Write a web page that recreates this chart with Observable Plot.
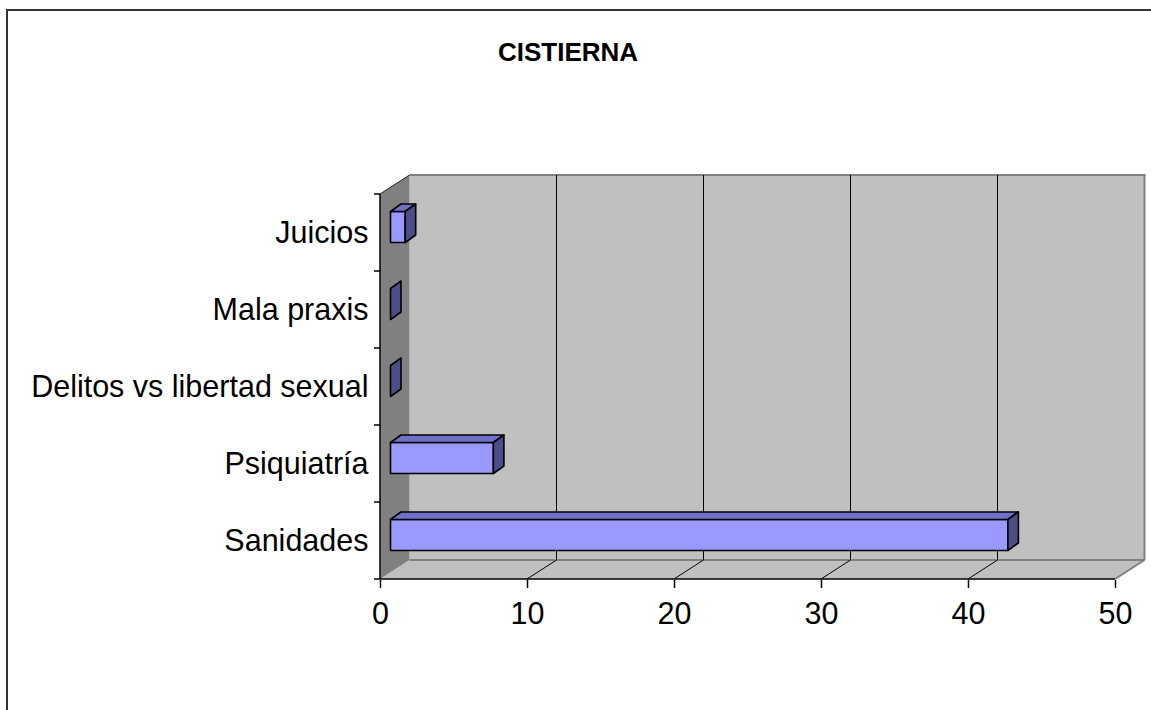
<!DOCTYPE html>
<html><head><meta charset="utf-8">
<script src="https://cdn.jsdelivr.net/npm/d3@7"></script>
<script src="https://cdn.jsdelivr.net/npm/@observablehq/plot@0.6"></script>
<style>
html,body{margin:0;padding:0;background:#fff;overflow:hidden;}
#wrap{position:relative;width:1151px;height:710px;overflow:hidden;}
#frame{position:absolute;left:6px;top:9px;width:1300px;height:900px;border-left:2px solid #333;border-top:2px solid #333;}
#title{position:absolute;left:0;width:1136px;top:39px;text-align:center;font:bold 26px "Liberation Sans",Arial,sans-serif;line-height:26px;color:#000;}
#chart{position:absolute;left:0;top:0;}
</style></head>
<body><div id="wrap"><div id="frame"></div><div id="title"></div><div id="chart"></div></div>
<script>
const title = "CISTIERNA";
const categories = ["Juicios", "Mala praxis", "Delitos vs libertad sexual", "Psiquiatría", "Sanidades"];
const values = [1, 0, 0, 7, 42];
const xTicks = [0, 10, 20, 30, 40, 50];

const FONT = '"Liberation Sans", Arial, sans-serif';
const WALL = {dx: 29.5, dy: -19};
const BAR = {ox: 10.5, oy: -5.5, dx: 10.5, dy: -7.5, h: 31};

document.getElementById("title").textContent = title;

function scene(index, scales) {
  const x = scales.x, y = scales.y;
  const bw = typeof y.bandwidth === "function" ? y.bandwidth() : y.bandwidth;
  const x0 = x(xTicks[0]), x1 = x(xTicks[xTicks.length - 1]);
  const yTop = y(categories[0]), yBot = y(categories[categories.length - 1]) + bw;
  const g = d3.create("svg:g");
  const pts = (p) => p.map(q => q.join(",")).join(" ");
  const poly = (p, fill, stroke, sw) => g.append("polygon").attr("points", pts(p))
    .attr("fill", fill).attr("stroke", stroke || "none").attr("stroke-width", sw || 1).attr("stroke-linejoin", "round");
  const line = (a, b, stroke, sw) => g.append("line").attr("x1", a[0]).attr("y1", a[1]).attr("x2", b[0]).attr("y2", b[1])
    .attr("stroke", stroke).attr("stroke-width", sw);
  const D = WALL;
  poly([[x0 + D.dx, yTop + D.dy], [x1 + D.dx, yTop + D.dy], [x1 + D.dx, yBot + D.dy], [x0 + D.dx, yBot + D.dy]], "#c0c0c0");
  poly([[x0, yBot], [x1, yBot], [x1 + D.dx, yBot + D.dy], [x0 + D.dx, yBot + D.dy]], "#c0c0c0");
  poly([[x0, yTop], [x0 + D.dx, yTop + D.dy], [x0 + D.dx, yBot + D.dy], [x0, yBot]], "#808080");
  line([x0 + D.dx, yTop + D.dy], [x1 + D.dx + 1, yTop + D.dy], "#808080", 2);
  line([x1 + D.dx, yTop + D.dy], [x1 + D.dx, yBot + D.dy], "#808080", 2);
  line([x0 + D.dx, yBot + D.dy], [x1 + D.dx, yBot + D.dy], "#808080", 2);
  line([x1, yBot], [x1 + D.dx, yBot + D.dy], "#808080", 2);
  for (const t of xTicks.slice(1, -1)) {
    line([x(t) + D.dx, yTop + D.dy], [x(t) + D.dx, yBot + D.dy], "#000", 1);
    line([x(t), yBot], [x(t) + D.dx, yBot + D.dy], "#000", 1);
  }
  line([x0, yTop], [x0 + D.dx, yTop + D.dy], "#222", 1);
  line([x0, yTop], [x0, yBot], "#000", 1.5);
  line([x0 - 6, yBot], [x1, yBot], "#000", 1.5);
  for (const c of categories) line([x0 - 6, y(c)], [x0, y(c)], "#000", 1.5);
  const B = BAR;
  categories.forEach((c, i) => {
    const v = values[i];
    const fx0 = x(0) + B.ox, fx1 = x(v) + B.ox;
    const cy = y(c) + bw / 2 + B.oy;
    const top = cy - B.h / 2, bot = cy + B.h / 2;
    if (v > 0) {
      poly([[fx0, top], [fx1, top], [fx1, bot], [fx0, bot]], "#9999ff", "#000", 1.6);
      poly([[fx0, top], [fx1, top], [fx1 + B.dx, top + B.dy], [fx0 + B.dx, top + B.dy]], "#6f6fcc", "#000", 1.6);
    }
    poly([[fx1, top], [fx1 + B.dx, top + B.dy], [fx1 + B.dx, bot + B.dy], [fx1, bot]], "#4d4d88", "#000", 1.6);
  });
  return g.node();
}

const chart = Plot.plot({
  width: 1151,
  height: 710,
  marginLeft: 380,
  marginRight: 36,
  marginTop: 193,
  marginBottom: 130,
  style: {fontFamily: FONT, background: "transparent", color: "#000"},
  x: {domain: [xTicks[0], xTicks[xTicks.length - 1]]},
  y: {type: "band", domain: categories, padding: 0},
  marks: [
    scene,
    Plot.axisY(categories, {tickSize: 0, tickPadding: 12, fontSize: 30.5, label: null, fill: "#000"}),
    Plot.axisX(xTicks, {tickSize: 8, tickPadding: 14, fontSize: 30.5, label: null, stroke: "#000", strokeWidth: 1.5, fill: "#000"})
  ]
});
document.getElementById("chart").appendChild(chart);
</script>
</body></html>
